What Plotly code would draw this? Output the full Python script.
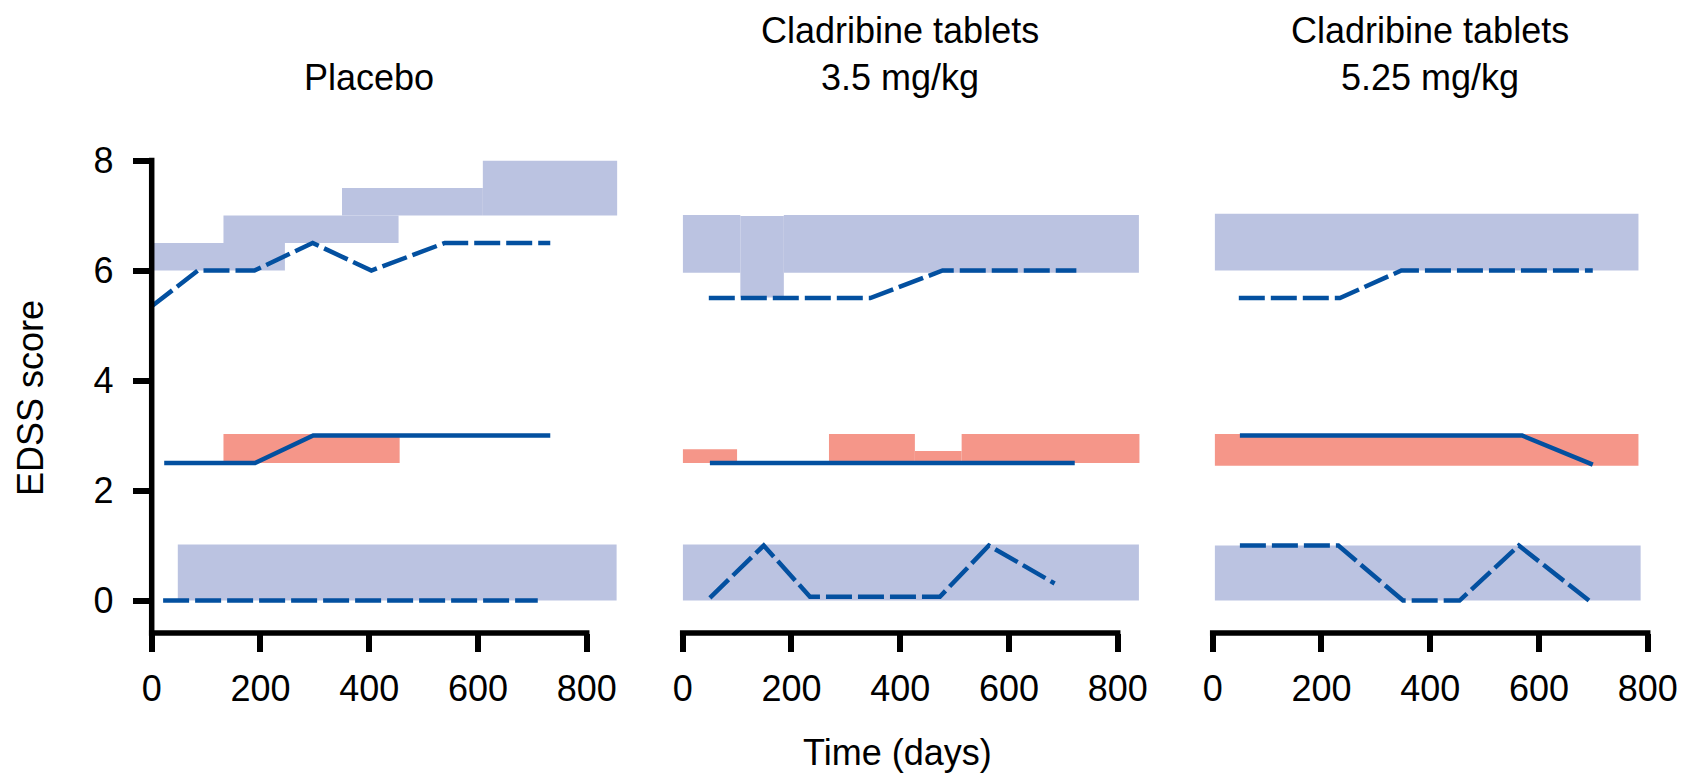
import plotly.graph_objects as go

# ---------------------------------------------------------------------------
# Data: EDSS trajectories (days, score) and shaded EDSS ranges per arm
# ---------------------------------------------------------------------------
DAY_TICKS = [0, 200, 400, 600, 800]
EDSS_TICKS = [0, 2, 4, 6, 8]
PANEL_TITLES = ["Placebo", "Cladribine tablets<br>3.5 mg/kg", "Cladribine tablets<br>5.25 mg/kg"]
X_TITLE = "Time (days)"
Y_TITLE = "EDSS score"

# Placebo
pbo_high_days = [0, 85, 189, 296, 404, 539, 733]
pbo_high_edss = [5.35, 6.0, 6.0, 6.5, 6.0, 6.5, 6.5]
pbo_mid_days = [23, 190, 297, 733]
pbo_mid_edss = [2.5, 2.5, 3.0, 3.0]
pbo_low_days = [21, 710]
pbo_low_edss = [0.0, 0.0]

pbo_high_band_start = [0, 132, 350, 609]
pbo_high_band_end = [245, 454, 609, 856]
pbo_high_band_low = [6.0, 6.5, 7.0, 7.0]
pbo_high_band_high = [6.5, 7.0, 7.5, 8.0]
pbo_mid_band_start = [132]
pbo_mid_band_end = [456]
pbo_mid_band_low = [2.5]
pbo_mid_band_high = [3.03]
pbo_low_band_start = [48]
pbo_low_band_end = [855]
pbo_low_band_low = [0.0]
pbo_low_band_high = [1.02]

# Cladribine tablets 3.5 mg/kg
c35_high_days = [48, 345, 478, 724]
c35_high_edss = [5.5, 5.5, 6.0, 6.0]
c35_mid_days = [50, 721]
c35_mid_edss = [2.5, 2.5]
c35_low_days = [50, 149, 234, 473, 563, 684]
c35_low_edss = [0.05, 1.0, 0.07, 0.07, 1.0, 0.31]

c35_high_band_start = [0, 106, 186]
c35_high_band_end = [106, 186, 839]
c35_high_band_low = [5.96, 5.51, 5.96]
c35_high_band_high = [7.01, 6.99, 7.01]
c35_mid_band_start = [0, 269, 427, 513]
c35_mid_band_end = [100, 427, 513, 840]
c35_mid_band_low = [2.5, 2.5, 2.5, 2.5]
c35_mid_band_high = [2.75, 3.03, 2.72, 3.03]
c35_low_band_start = [0]
c35_low_band_end = [839]
c35_low_band_low = [0.0]
c35_low_band_high = [1.02]

# Cladribine tablets 5.25 mg/kg
c525_high_days = [48, 234, 347, 699]
c525_high_edss = [5.5, 5.5, 6.0, 6.0]
c525_mid_days = [50, 569, 699]
c525_mid_edss = [3.0, 3.0, 2.47]
c525_low_days = [50, 231, 350, 454, 563, 692]
c525_low_edss = [1.0, 1.0, 0.0, 0.0, 1.0, 0.0]

c525_high_band_start = [4]
c525_high_band_end = [783]
c525_high_band_low = [6.0]
c525_high_band_high = [7.03]
c525_mid_band_start = [4]
c525_mid_band_end = [783]
c525_mid_band_low = [2.45]
c525_mid_band_high = [3.03]
c525_low_band_start = [4]
c525_low_band_end = [787]
c525_low_band_low = [0.0]
c525_low_band_high = [1.0]

panels = [
    {
        "lines": {
            "high": (pbo_high_days, pbo_high_edss),
            "mid": (pbo_mid_days, pbo_mid_edss),
            "low": (pbo_low_days, pbo_low_edss),
        },
        "bands": {
            "high": (pbo_high_band_start, pbo_high_band_end, pbo_high_band_low, pbo_high_band_high),
            "mid": (pbo_mid_band_start, pbo_mid_band_end, pbo_mid_band_low, pbo_mid_band_high),
            "low": (pbo_low_band_start, pbo_low_band_end, pbo_low_band_low, pbo_low_band_high),
        },
    },
    {
        "lines": {
            "high": (c35_high_days, c35_high_edss),
            "mid": (c35_mid_days, c35_mid_edss),
            "low": (c35_low_days, c35_low_edss),
        },
        "bands": {
            "high": (c35_high_band_start, c35_high_band_end, c35_high_band_low, c35_high_band_high),
            "mid": (c35_mid_band_start, c35_mid_band_end, c35_mid_band_low, c35_mid_band_high),
            "low": (c35_low_band_start, c35_low_band_end, c35_low_band_low, c35_low_band_high),
        },
    },
    {
        "lines": {
            "high": (c525_high_days, c525_high_edss),
            "mid": (c525_mid_days, c525_mid_edss),
            "low": (c525_low_days, c525_low_edss),
        },
        "bands": {
            "high": (c525_high_band_start, c525_high_band_end, c525_high_band_low, c525_high_band_high),
            "mid": (c525_mid_band_start, c525_mid_band_end, c525_mid_band_low, c525_mid_band_high),
            "low": (c525_low_band_start, c525_low_band_end, c525_low_band_low, c525_low_band_high),
        },
    },
]

# ---------------------------------------------------------------------------
# Styling and layout geometry
# ---------------------------------------------------------------------------
W, H = 1684, 775
FONT = "Liberation Sans, Arial, Helvetica, sans-serif"
FONT_SIZE = 36
LINE_BLUE = "#0350A0"
BAND_COLORS = {"high": "#BBC3E1", "mid": "#F59689", "low": "#BBC3E1"}
LINE_DASH = {"high": "26px,6px", "mid": "solid", "low": "26px,6px"}
LINE_W = 4.5
AXIS_W = 5.5
TICK_LEN = 18

PLOT_TOP, PLOT_BOTTOM = 160.5, 633.0
PANEL_LEFT = [151.7, 682.7, 1212.7]
PX_PER_DAY = 435.0 / 800.0
X_MAX = [870, 850, 800]
Y_RANGE = [-0.59, 8.0]

fig = go.Figure()
shapes = []
annotations = []
layout_axes = {}

plot_h = PLOT_BOTTOM - PLOT_TOP
ydom = [1 - PLOT_BOTTOM / H, 1 - PLOT_TOP / H]

for i, panel in enumerate(panels):
    n = "" if i == 0 else str(i + 1)
    xa, ya = "x" + n, "y" + n
    width_px = X_MAX[i] * PX_PER_DAY
    xdom = [PANEL_LEFT[i] / W, (PANEL_LEFT[i] + width_px) / W]

    # shaded EDSS ranges
    for key, (starts, ends, lows, highs) in panel["bands"].items():
        for s, e, lo, hi in zip(starts, ends, lows, highs):
            shapes.append(dict(
                type="rect", xref=xa, yref=ya, x0=s, x1=e, y0=lo, y1=hi,
                fillcolor=BAND_COLORS[key], line=dict(width=0), layer="below",
            ))

    # trajectories
    for key, (days, edss) in panel["lines"].items():
        fig.add_trace(go.Scatter(
            x=days, y=edss, mode="lines", xaxis=xa, yaxis=ya,
            line=dict(color=LINE_BLUE, width=LINE_W, dash=LINE_DASH[key]),
            showlegend=False, hoverinfo="skip",
        ))

    # x axis line ending at the last tick
    shapes.append(dict(
        type="line", xref=xa + " domain", yref=ya + " domain",
        x0=-(AXIS_W / 2) / width_px, x1=DAY_TICKS[-1] / X_MAX[i] + (AXIS_W / 2) / width_px,
        y0=0, y1=0, line=dict(color="black", width=AXIS_W), layer="above",
    ))

    layout_axes["xaxis" + n] = dict(
        domain=xdom, range=[0, X_MAX[i]], anchor=ya,
        tickvals=DAY_TICKS, ticktext=[str(v) for v in DAY_TICKS],
        ticks="outside", ticklen=TICK_LEN, tickwidth=AXIS_W, tickcolor="black",
        showline=False, showgrid=False, zeroline=False, automargin=False,
        tickfont=dict(family=FONT, size=FONT_SIZE, color="black"),
        ticklabelstandoff=6,
    )
    yaxis = dict(
        domain=ydom, range=Y_RANGE, anchor=xa, automargin=False,
        showline=False, showgrid=False, zeroline=False,
    )
    if i == 0:
        yaxis.update(
            tickvals=EDSS_TICKS, ticktext=[str(v) for v in EDSS_TICKS],
            ticks="outside", ticklen=TICK_LEN, tickwidth=AXIS_W, tickcolor="black",
            tickfont=dict(family=FONT, size=FONT_SIZE, color="black"),
            ticklabelstandoff=12,
        )
        shapes.append(dict(
            type="line", xref=xa + " domain", yref=ya + " domain",
            x0=0, x1=0, y0=-(AXIS_W / 2) / plot_h, y1=1 + (AXIS_W / 2) / plot_h,
            line=dict(color="black", width=AXIS_W), layer="above",
        ))
    else:
        yaxis.update(showticklabels=False, ticks="")
    layout_axes["yaxis" + n] = yaxis

    # panel title centred over the 0-800 day span
    annotations.append(dict(
        text=PANEL_TITLES[i], xref="paper", yref="paper",
        x=(PANEL_LEFT[i] + DAY_TICKS[-1] / 2 * PX_PER_DAY) / W, y=1 - 99.5 / H,
        xanchor="center", yanchor="bottom", showarrow=False,
        font=dict(family=FONT, size=FONT_SIZE, color="black"),
    ))

annotations.append(dict(
    text=Y_TITLE, xref="paper", yref="paper", x=30 / W, y=1 - 398 / H,
    xanchor="center", yanchor="middle", textangle=-90, showarrow=False,
    font=dict(family=FONT, size=FONT_SIZE, color="black"),
))
annotations.append(dict(
    text=X_TITLE, xref="paper", yref="paper", x=897.5 / W, y=1 - 752 / H,
    xanchor="center", yanchor="middle", showarrow=False,
    font=dict(family=FONT, size=FONT_SIZE, color="black"),
))

fig.update_layout(
    width=W, height=H,
    margin=dict(l=0, r=0, t=0, b=0, autoexpand=False),
    paper_bgcolor="white", plot_bgcolor="white",
    shapes=shapes, annotations=annotations,
    font=dict(family=FONT, size=FONT_SIZE, color="black"),
    **layout_axes,
)

fig.write_html("out.html")
